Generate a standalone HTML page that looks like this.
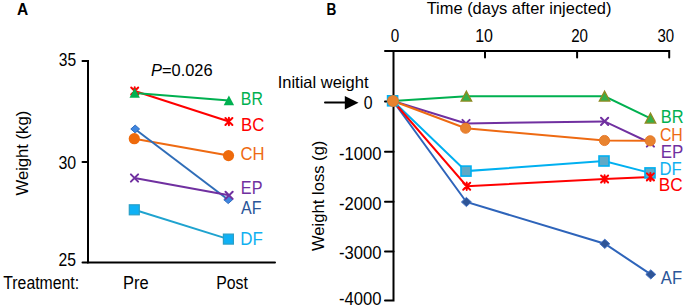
<!DOCTYPE html>
<html><head><meta charset="utf-8">
<style>
html,body{margin:0;padding:0;background:#fff;}
body{width:685px;height:308px;overflow:hidden;}
svg{display:block;}
text{font-family:"Liberation Sans",sans-serif;font-size:16px;fill:#000;}
</style></head>
<body>
<svg width="685" height="308" viewBox="0 0 685 308">
<defs>
  <path id="tri" d="M0,-5 L5.2,4.8 L-5.2,4.8 Z"/>
  <path id="star" d="M-3.5,-3.5 L3.5,3.5 M3.5,-3.5 L-3.5,3.5 M0,-3.8 L0,3.8"/>
  <path id="xm" d="M-3.6,-3.6 L3.6,3.6 M3.6,-3.6 L-3.6,3.6"/>
  <path id="dia" d="M0,-3.9 L4.4,0 L0,3.9 L-4.4,0 Z"/>
  <path id="diaB" d="M0,-4.6 L5,0 L0,4.6 L-5,0 Z"/>
</defs>
<!-- ================= Panel A ================= -->
<text id="t1" x="16.95" y="14.58" textLength="11.20" lengthAdjust="spacingAndGlyphs" style="font-weight:bold">A</text>
<g stroke="#000" stroke-width="2" fill="none" stroke-linecap="round" stroke-linejoin="miter">
  <path d="M82.5,61 H88 V262.5 H275"/>
  <path d="M82.5,162 H88"/>
  <path d="M82.5,262.5 H88"/>
</g>
<text id="t2" x="58.77" y="66.36" textLength="17.34" lengthAdjust="spacingAndGlyphs" style="font-size:17.5px;">35</text>
<text id="t3" x="58.47" y="169.40" textLength="17.70" lengthAdjust="spacingAndGlyphs" style="font-size:17.5px;">30</text>
<text id="t4" x="58.58" y="266.44" textLength="17.50" lengthAdjust="spacingAndGlyphs" style="font-size:17.5px;">25</text>
<text id="t5" transform="translate(27.5,195.5) rotate(-90)" textLength="84.7" lengthAdjust="spacingAndGlyphs">Weight (kg)</text>
<text id="t6" x="3.29" y="288.96" textLength="75.84" lengthAdjust="spacingAndGlyphs" style="font-size:17.5px">Treatment:</text>
<text id="t7" x="123.00" y="288.66" textLength="25.65" lengthAdjust="spacingAndGlyphs" style="font-size:17.5px">Pre</text>
<text id="t8" x="216.21" y="288.66" textLength="31.67" lengthAdjust="spacingAndGlyphs" style="font-size:17.5px">Post</text>
<text id="t9" x="151.00" y="76.38" textLength="61.65" lengthAdjust="spacingAndGlyphs" style="font-size:16.5px"><tspan style="font-style:italic">P</tspan>=0.026</text>

<!-- lines A -->
<g fill="none" stroke-width="2">
  <path d="M134.7,91 L228.9,121.5" stroke="#FF0000"/>
  <path d="M134.7,93 L228.9,100.4" stroke="#00B050"/>
  <path d="M134.3,138.7 L228.5,155.6" stroke="#EE6A12"/>
  <path d="M135.2,129.2 L228.2,199.7" stroke="#2F6DB8"/>
  <path d="M134.5,178 L229.1,195.3" stroke="#7030A0"/>
  <path d="M134.3,209.8 L228.4,239.1" stroke="#1FA3CF"/>
</g>
<!-- markers A -->
<g stroke="#FF0000" stroke-width="2" fill="none" stroke-linecap="round">
  <use href="#star" x="134.7" y="91"/>
</g>
<use href="#tri" x="134.7" y="93" fill="#00B050"/>
<use href="#tri" x="228.9" y="100.4" fill="#00B050"/>
<g stroke="#FF0000" stroke-width="2" fill="none" stroke-linecap="round">
  <use href="#star" x="228.9" y="121.5"/>
</g>
<use href="#dia" x="135.2" y="129" fill="#3F86DF" stroke="#2E6BC0" stroke-width="1"/>
<circle cx="134.3" cy="138.7" r="5.6" fill="#EE6A0C"/>
<circle cx="228.5" cy="155.6" r="5.6" fill="#EE6A0C"/>
<use href="#dia" x="228.2" y="199.7" fill="#3F86DF" stroke="#2E6BC0" stroke-width="1"/>
<g stroke="#7030A0" stroke-width="2" fill="none" stroke-linecap="round">
  <use href="#xm" x="134.5" y="178"/>
  <use href="#xm" x="229.1" y="195.3"/>
</g>
<rect x="129.3" y="204.8" width="10" height="10" fill="#0FB1F5" stroke="#2A9FC6" stroke-width="1.2"/>
<rect x="223.4" y="234.1" width="10" height="10" fill="#0FB1F5" stroke="#2A9FC6" stroke-width="1.2"/>

<text id="t10" x="240.84" y="104.72" textLength="22.03" lengthAdjust="spacingAndGlyphs" fill="#00B050" style="font-size:17.5px;fill:#00B050">BR</text>
<text id="t11" x="240.97" y="130.72" textLength="23.27" lengthAdjust="spacingAndGlyphs" style="font-size:17.5px;fill:#FF0000">BC</text>
<text id="t12" x="240.46" y="160.16" textLength="24.02" lengthAdjust="spacingAndGlyphs" style="font-size:17.5px;fill:#EE6A12">CH</text>
<text id="t13" x="240.85" y="194.44" textLength="21.59" lengthAdjust="spacingAndGlyphs" style="font-size:17.5px;fill:#7030A0">EP</text>
<text id="t14" x="240.98" y="213.58" textLength="20.45" lengthAdjust="spacingAndGlyphs" style="font-size:17.5px;fill:#2A5599">AF</text>
<text id="t15" x="240.27" y="244.62" textLength="22.56" lengthAdjust="spacingAndGlyphs" style="font-size:17.5px;fill:#0FB0F0">DF</text>

<!-- ================= Panel B ================= -->
<text id="t16" x="326.40" y="14.58" textLength="9.86" lengthAdjust="spacingAndGlyphs" style="font-weight:bold">B</text>
<text id="t17" x="426.69" y="14.44" textLength="184.72" lengthAdjust="spacingAndGlyphs" style="font-size:17px">Time (days after injected)</text>
<g stroke="#000" stroke-width="2" fill="none" stroke-linecap="round">
  <path d="M385,51 H669.2 V57.5"/>
  <path d="M485,51 V57.5"/>
  <path d="M577.1,51 V57.5"/>
  <path d="M393.5,51 V300.5 H385"/>
  <path d="M385,101.6 H393.5"/>
  <path d="M385,151.8 H393.5"/>
  <path d="M385,201.8 H393.5"/>
  <path d="M385,251.5 H393.5"/>
</g>
<text id="t18" x="390.77" y="41.66" textLength="8.49" lengthAdjust="spacingAndGlyphs" style="font-size:17.5px">0</text>
<text id="t19" x="475.23" y="41.66" textLength="17.78" lengthAdjust="spacingAndGlyphs" style="font-size:17.5px">10</text>
<text id="t20" x="571.23" y="41.66" textLength="16.80" lengthAdjust="spacingAndGlyphs" style="font-size:17.5px">20</text>
<text id="t21" x="657.42" y="41.66" textLength="16.70" lengthAdjust="spacingAndGlyphs" style="font-size:17.5px">30</text>
<text id="t22" x="363.82" y="109.02" textLength="8.81" lengthAdjust="spacingAndGlyphs" style="font-size:17.5px">0</text>
<text id="t23" x="339.01" y="160.20" textLength="42.43" lengthAdjust="spacingAndGlyphs" style="font-size:17.5px;">-1000</text>
<text id="t24" x="339.01" y="209.58" textLength="42.43" lengthAdjust="spacingAndGlyphs" style="font-size:17.5px;">-2000</text>
<text id="t25" x="339.01" y="258.76" textLength="42.43" lengthAdjust="spacingAndGlyphs" style="font-size:17.5px;">-3000</text>
<text id="t26" x="339.01" y="305.34" textLength="42.43" lengthAdjust="spacingAndGlyphs" style="font-size:17.5px;">-4000</text>
<text id="t27" transform="translate(323.5,251) rotate(-90)" textLength="110.4" lengthAdjust="spacingAndGlyphs">Weight loss (g)</text>
<text id="t28" x="277.66" y="87.64" textLength="90.82" lengthAdjust="spacingAndGlyphs" style="font-size:16.5px">Initial weight</text>
<path d="M325,102.5 H346" stroke="#000" stroke-width="2" stroke-linecap="round"/>
<path d="M344.8,96 L358.5,102.7 L344.8,109.4 Z" fill="#000"/>

<!-- lines B -->
<g fill="none" stroke-width="2">
  <path d="M393,101 L466.4,96.3 L604.6,96.3 L650.5,118.3" stroke="#00B050"/>
  <path d="M393,101 L466,123.5 L604.6,121.4 L650.4,143" stroke="#7030A0"/>
  <path d="M393,101 L465.6,128.2 L604.5,140.5 L650.2,140.8" stroke="#EE6A12"/>
  <path d="M393,101 L466,171.1 L604,161 L650,172.9" stroke="#00B0F0"/>
  <path d="M393,101 L466.4,202 L604.8,243.7 L650.8,274.4" stroke="#2E64BA"/>
  <path d="M393,101 L466.7,186.2 L604.6,179 L650.4,176.9" stroke="#FF0000"/>
</g>
<!-- markers B -->
<g id="mB">
<use href="#dia" x="393" y="101" fill="#2F5597" stroke="#4472C4" stroke-width="1"/>
<use href="#diaB" x="466.4" y="202" fill="#2F5597" stroke="#4472C4" stroke-width="1"/>
<use href="#diaB" x="604.8" y="243.8" fill="#2F5597" stroke="#4472C4" stroke-width="1"/>
<use href="#diaB" x="650.8" y="274.4" fill="#2F5597" stroke="#4472C4" stroke-width="1"/>
<g stroke="#FF0000" stroke-width="2" fill="none" stroke-linecap="round">
  <use href="#star" x="466.7" y="186.2"/>
  <use href="#star" x="604.6" y="179"/>
  <use href="#star" x="650.4" y="176.9"/>
</g>
<rect x="387.6" y="95.8" width="10" height="10" fill="#5FA9C6" stroke="#00B0F0" stroke-width="1.6"/>
<rect x="461" y="166.1" width="10" height="10" fill="#5FA9C6" stroke="#00B0F0" stroke-width="1.6"/>
<rect x="599" y="156" width="10" height="10" fill="#5FA9C6" stroke="#00B0F0" stroke-width="1.6"/>
<rect x="645" y="167.9" width="10" height="10" fill="#5FA9C6" stroke="#00B0F0" stroke-width="1.6"/>
<g stroke="#FF0000" stroke-width="2" fill="none" stroke-linecap="round">
  <use href="#star" x="650.4" y="176.9"/>
</g>
<g stroke="#7030A0" stroke-width="2" fill="none" stroke-linecap="round">
  <use href="#xm" x="466" y="123.5"/>
  <use href="#xm" x="604.6" y="121.4"/>
  <use href="#xm" x="650.4" y="143"/>
</g>
<use href="#tri" x="466.4" y="96.3" fill="#34B04A" stroke="#8E8A22" stroke-width="1.4"/>
<use href="#tri" x="604.6" y="96.3" fill="#34B04A" stroke="#8E8A22" stroke-width="1.4"/>
<use href="#tri" x="650.5" y="118.3" fill="#34B04A" stroke="#8E8A22" stroke-width="1.4"/>
<circle cx="465.6" cy="128.2" r="5.1" fill="#E8832F" stroke="#E57525" stroke-width="0.9"/>
<circle cx="604.5" cy="140.5" r="5.1" fill="#E8832F" stroke="#E57525" stroke-width="0.9"/>
<circle cx="650.2" cy="140.8" r="5.1" fill="#E8832F" stroke="#E57525" stroke-width="0.9"/>
<circle cx="393" cy="101" r="5.5" fill="#E8832F" stroke="#E57525" stroke-width="0.8"/>
</g>
<text id="t29" x="660.81" y="123.14" textLength="22.79" lengthAdjust="spacingAndGlyphs" style="font-size:17.5px;fill:#00B050">BR</text>
<text id="t30" x="659.93" y="141.14" textLength="22.87" lengthAdjust="spacingAndGlyphs" style="font-size:17.5px;fill:#EE6A12">CH</text>
<text id="t31" x="660.66" y="157.78" textLength="22.59" lengthAdjust="spacingAndGlyphs" style="font-size:17.5px;fill:#7030A0">EP</text>
<text id="t32" x="659.55" y="174.78" textLength="22.18" lengthAdjust="spacingAndGlyphs" style="font-size:17.5px;fill:#0FB0F0">DF</text>
<text id="t33" x="658.80" y="191.38" textLength="23.90" lengthAdjust="spacingAndGlyphs" style="font-size:17.5px;fill:#FF0000">BC</text>
<text id="t34" x="660.80" y="284.44" textLength="21.27" lengthAdjust="spacingAndGlyphs" style="font-size:17.5px;fill:#2A5599">AF</text>
</svg>
</body></html>
